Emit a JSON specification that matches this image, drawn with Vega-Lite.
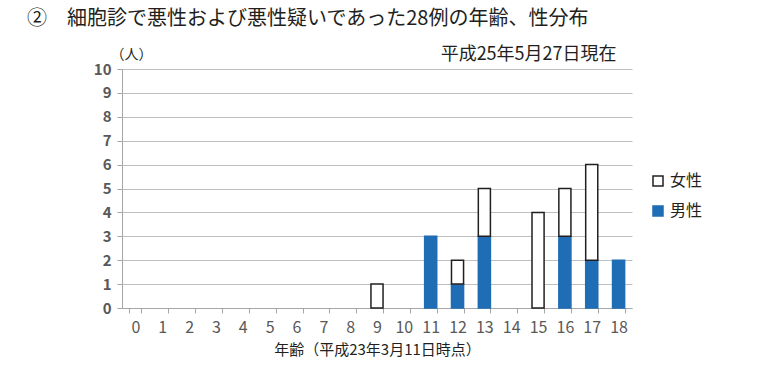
{
  "$schema": "https://vega.github.io/schema/vega-lite/v6.json",
  "width": 510,
  "height": 239,
  "autosize": {"type": "none"},
  "padding": {"left": 122, "top": 69, "right": 130, "bottom": 61},
  "background": "white",
  "config": {
    "font": "Noto Sans CJK JP",
    "view": {"stroke": null}
  },
  "title": {
    "text": "②　細胞診で悪性および悪性疑いであった28例の年齢、性分布",
    "anchor": "start",
    "frame": "group",
    "dx": -95,
    "offset": 17,
    "fontSize": 20,
    "fontWeight": "normal",
    "color": "#231f20",
    "font": "Noto Sans CJK JP"
  },
  "layer": [
    {
      "data": {
        "values": [
          {"age": 9, "sex": "女性", "count": 1},
          {"age": 11, "sex": "男性", "count": 3},
          {"age": 12, "sex": "男性", "count": 1},
          {"age": 12, "sex": "女性", "count": 1},
          {"age": 13, "sex": "男性", "count": 3},
          {"age": 13, "sex": "女性", "count": 2},
          {"age": 15, "sex": "女性", "count": 4},
          {"age": 16, "sex": "男性", "count": 3},
          {"age": 16, "sex": "女性", "count": 2},
          {"age": 17, "sex": "男性", "count": 2},
          {"age": 17, "sex": "女性", "count": 4},
          {"age": 18, "sex": "男性", "count": 2}
        ]
      },
      "mark": {"type": "bar", "strokeWidth": 1.5},
      "encoding": {
        "x": {
          "field": "age",
          "type": "ordinal",
          "scale": {"domain": [0,1,2,3,4,5,6,7,8,9,10,11,12,13,14,15,16,17,18], "paddingInner": 0.55, "paddingOuter": 0.275},
          "axis": {
            "title": "年齢（平成23年3月11日時点）",
            "titleFontSize": 15,
            "titleFontWeight": "normal",
            "titleColor": "#231f20",
            "titlePadding": 7,
            "labelAngle": 0,
            "labelFontSize": 16,
            "labelColor": "#595959",
            "labelPadding": 6,
            "tickBand": "extent",
            "tickSize": 5,
            "tickColor": "#a6a6a6",
            "domainColor": "#a6a6a6",
            "grid": false
          }
        },
        "y": {
          "field": "count",
          "type": "quantitative",
          "stack": "zero",
          "scale": {"domain": [0, 10], "nice": false},
          "axis": {
            "title": "（人）",
            "titleAngle": 0,
            "titleX": -12,
            "titleY": -15,
            "titleAlign": "left",
            "titleBaseline": "middle",
            "titleFontSize": 14,
            "titleFontWeight": "normal",
            "titleColor": "#231f20",
            "values": [0,1,2,3,4,5,6,7,8,9,10],
            "tickCount": 11,
            "labelOverlap": false,
            "labelFontSize": 15,
            "labelFontWeight": "bold",
            "labelColor": "#595959",
            "labelPadding": 6,
            "tickSize": 5,
            "tickColor": "#a6a6a6",
            "domain": true,
            "domainColor": "#a6a6a6",
            "grid": true,
            "gridColor": "#bfbfbf",
            "gridWidth": 1.2
          }
        },
        "color": {
          "field": "sex",
          "type": "nominal",
          "scale": {"domain": ["女性", "男性"], "range": ["#ffffff", "#1f6db4"]},
          "legend": {
            "title": null,
            "orient": "none",
            "legendX": 528,
            "legendY": 104,
            "symbolType": "square",
            "symbolSize": 100,
            "labelFontSize": 16,
            "labelColor": "#231f20",
            "rowPadding": 14,
            "labelOffset": 4
          }
        },
        "stroke": {
          "field": "sex",
          "type": "nominal",
          "scale": {"domain": ["女性", "男性"], "range": ["#231f20", "#1f6db4"]},
          "legend": {
            "title": null,
            "orient": "none",
            "legendX": 528,
            "legendY": 104,
            "symbolType": "square",
            "symbolSize": 100,
            "labelFontSize": 16,
            "labelColor": "#231f20",
            "rowPadding": 14,
            "labelOffset": 4
          }
        },
        "order": {"field": "sex", "sort": "descending"}
      }
    },
    {
      "data": {"values": [{"note": "平成25年5月27日現在"}]},
      "mark": {"type": "text", "align": "right", "baseline": "middle", "fontSize": 18, "fontWeight": 400, "color": "#231f20", "dx": -2, "dy": -14},
      "encoding": {
        "x": {"datum": 18, "type": "ordinal"},
        "y": {"datum": 10, "type": "quantitative"},
        "text": {"field": "note", "type": "nominal"}
      }
    }
  ]
}
